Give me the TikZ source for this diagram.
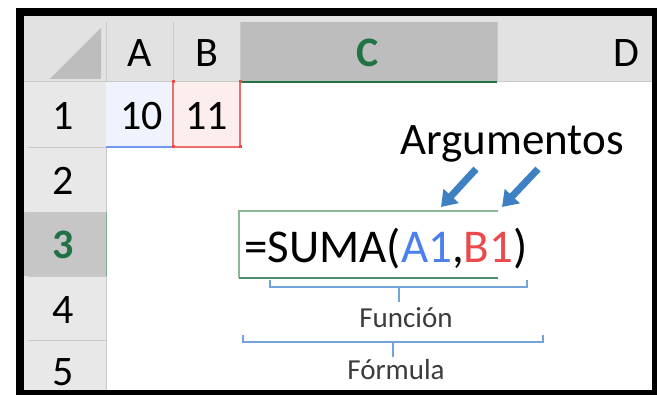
\documentclass[tikz,border=0pt]{standalone}
\usepackage{fontspec}
\setmainfont{Carlito}
\usetikzlibrary{arrows.meta}
\definecolor{hdrgray}{HTML}{E2E2E2}
\definecolor{selgray}{HTML}{BDBDBD}
\definecolor{rowsel}{HTML}{C6C6C6}
\definecolor{gridgray}{HTML}{C9C9C9}
\definecolor{xlgreen}{HTML}{217346}
\definecolor{boxgreen}{HTML}{8DB894}
\definecolor{refblue}{HTML}{4A7FEE}
\definecolor{refred}{HTML}{EA4A4C}
\definecolor{cellblue}{HTML}{EEF3FD}
\definecolor{cellred}{HTML}{FDEEEE}
\definecolor{bracecol}{HTML}{74A3D9}
\definecolor{arrowblue}{HTML}{3F80C2}
\definecolor{labelgray}{HTML}{3C3C3C}

\begin{document}
\begin{tikzpicture}[x=1pt,y=-1pt,
  every node/.style={inner sep=0pt},
  hdr/.style={anchor=base,font=\fontsize{42}{42}\selectfont},
  hdrsel/.style={hdr,text=xlgreen,font=\fontsize{42}{42}\selectfont\bfseries},
  cellval/.style={anchor=base east,font=\fontsize{42}{42}\selectfont},
  brace/.style={draw=bracecol,line width=1.6pt},
  bracelabel/.style={anchor=base,text=labelgray,font=\fontsize{29}{29}\selectfont},
  argarrow/.style={draw=arrowblue,line width=7pt,
    -{Triangle[length=15pt,width=20pt]}}]
\useasboundingbox (0,0) rectangle (657,395);
% frame
\fill [black] (16,8) rectangle (657,395);
\fill [white] (24,16) rectangle (652,390);
\begin{scope}
\clip (24,16) rectangle (652,390);
% header row and row headers
\fill [hdrgray] (24,16) rectangle (652,82);
\fill [selgray] (240,22) rectangle (497,82);
\fill [hdrgray!80!white] (24,82) rectangle (106,390);
\fill [rowsel] (24,212) rectangle (106,276);
\fill [selgray] (50,79) -- (101,79) -- (101,28) -- cycle;
\foreach \cx in {106,173,240,497}
  \draw [gridgray,line width=0.8pt] (\cx,22) -- (\cx,82);
\foreach \ry in {147,212,276,340}
  \draw [gridgray,line width=0.8pt] (28,\ry) -- (106,\ry);
\draw [gridgray,line width=1pt] (24,82) -- (652,82);
\draw [xlgreen,line width=1.2pt] (240,82) -- (497,82);
\draw [gridgray,line width=1pt] (106,82) -- (106,390);
\draw [xlgreen!60,line width=1pt] (106,212) -- (106,276);
% column letters
\node [hdr] (colA) at (140,67) {A};
\node [hdr] (colB) at (207,67) {B};
\node [hdrsel] (colC) at (368,67) {C};
\node [hdr] (colD) at (626,67) {D};
% row numbers
\node [hdr] (row1) at (63,130) {1};
\node [hdr] (row2) at (63,194.5) {2};
\node [hdrsel] (row3) at (63,259) {3};
\node [hdr] (row4) at (63,323.5) {4};
\node [hdr] (row5) at (63,386) {5};
% referenced cells
\fill [cellblue] (106,82) rectangle (173,147);
\draw [refblue!80,line width=1.2pt] (106,147) -- (173,147);
\fill [cellred] (173,82) rectangle (240,147);
\draw [refred!80,line width=1.2pt] (173,82) -- (173,147) -- (240,147) -- (240,82);
\foreach \dx/\dy in {173/82,240/82,173/147,240/147}
  \fill [refred] (\dx-1.5,\dy-1.5) rectangle (\dx+1.5,\dy+1.5);
\node [cellval] (valA) at (163,130) {10};
\node [cellval] (valB) at (228,130) {11};
\end{scope}
% formula cell
\draw [boxgreen,line width=1.5pt] (498,211) -- (239,211) -- (239,278);
\draw [xlgreen!80,line width=1.5pt] (239,278) -- (498,278);
\node [anchor=base,font=\fontsize{47}{47}\selectfont] (formula) at (386,263)
  {=SUMA(\textcolor{refblue}{A1},\textcolor{refred}{B1})};
% arguments
\node [anchor=base,font=\fontsize{45}{45}\selectfont] (args) at (512,155) {Argumentos};
\coordinate (tailA) at (476,169);
\coordinate (tipA) at (441,207);
\coordinate (tailB) at (538,169);
\coordinate (tipB) at (502,207);
\draw [argarrow] (tailA) -- (tipA);
\draw [argarrow] (tailB) -- (tipB);
% braces
\node [bracelabel] (funcion) at (406,328) {Función};
\node [bracelabel] (formulalbl) at (396,380) {Fórmula};
\coordinate (funL) at (270,280);
\coordinate (funR) at (527,280);
\coordinate (funM) at (399,287);
\draw [brace] (funL) -- (270,287) -- (527,287) -- (funR);
\draw [brace] (funM) -- (399,302);
\coordinate (forL) at (243,335);
\coordinate (forR) at (543,335);
\coordinate (forM) at (393,342);
\draw [brace] (forL) -- (243,342) -- (543,342) -- (forR);
\draw [brace] (forM) -- (393,357);
\end{tikzpicture}
\end{document}
